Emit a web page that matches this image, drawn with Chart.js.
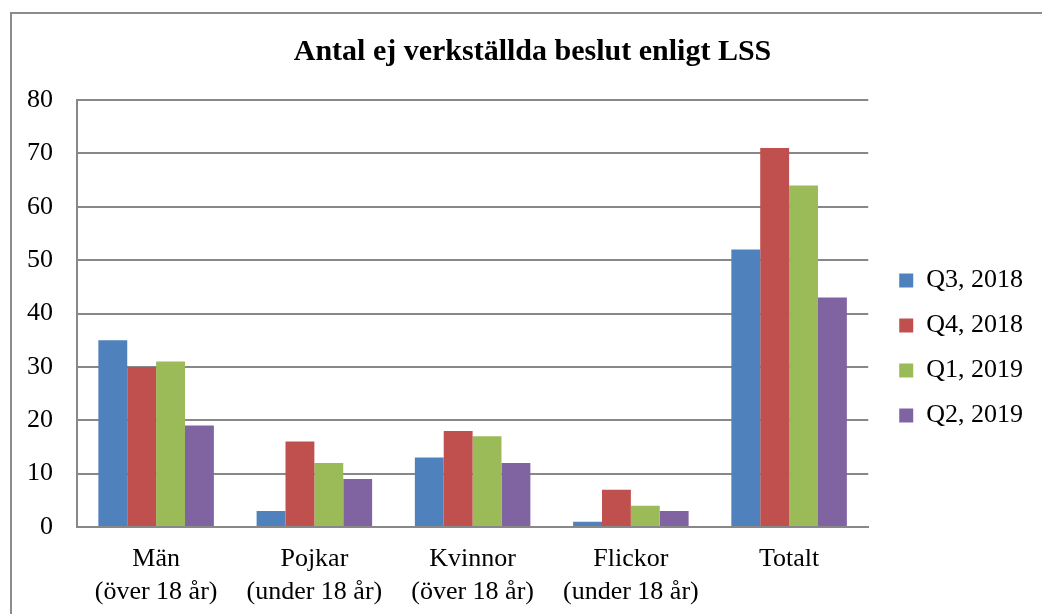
<!DOCTYPE html>
<html>
<head>
<meta charset="utf-8">
<script src="https://cdn.jsdelivr.net/npm/chart.js@4"></script>
<style>
  html, body { margin: 0; padding: 0; background: #fff; overflow: hidden; }
  #wrap { position: relative; width: 1042px; height: 614px; }
  #frame { position: absolute; left: 10px; top: 12px; width: 1100px; height: 700px;
           border: 2px solid #8c8c8c; pointer-events: none; }
</style>
</head>
<body>
<div id="wrap">
  <canvas id="chart" width="1042" height="614"></canvas>
  <div id="frame"></div>
</div>
<script>
const categories = [
  ['Män', '(över 18 år)'],
  ['Pojkar', '(under 18 år)'],
  ['Kvinnor', '(över 18 år)'],
  ['Flickor', '(under 18 år)'],
  'Totalt'
];
const seriesNames = ['Q3, 2018', 'Q4, 2018', 'Q1, 2019', 'Q2, 2019'];
const q3_2018 = [35, 3, 13, 1, 52];
const q4_2018 = [30, 16, 18, 7, 71];
const q1_2019 = [31, 12, 17, 4, 64];
const q2_2019 = [19, 9, 12, 3, 43];
const colors = ['#4f81bd', '#c0504d', '#9bbb59', '#8064a2'];

const font = 'Liberation Serif, Times New Roman, serif';

// nudge legend and title to where the original has them
const nudge = {
  id: 'nudge',
  afterLayout(chart) {
    const lg = chart.legend;
    lg.left += 12; lg.right += 12;
    lg.top += 24; lg.bottom += 24;
    const t = chart.titleBlock;
    t.left += 22; t.right += 22;
  }
};

new Chart(document.getElementById('chart'), {
  type: 'bar',
  data: {
    labels: categories,
    datasets: [q3_2018, q4_2018, q1_2019, q2_2019].map((d, i) => ({
      label: seriesNames[i],
      data: d,
      backgroundColor: colors[i],
      borderWidth: 0,
      barPercentage: 1,
      categoryPercentage: 0.73
    }))
  },
  plugins: [nudge],
  options: {
    responsive: false,
    animation: false,
    layout: { padding: { left: 0, right: 21, top: 34, bottom: 0 } },
    plugins: {
      title: {
        display: true,
        text: 'Antal ej verkställda beslut enligt LSS',
        color: '#000',
        font: { family: font, size: 30, weight: 'bold' },
        padding: { top: 0, bottom: 30 }
      },
      legend: {
        position: 'right',
        labels: {
          color: '#000',
          font: { family: font, size: 26 },
          boxWidth: 14,
          boxHeight: 14,
          padding: 19
        }
      },
      tooltip: { enabled: false }
    },
    scales: {
      x: {
        grid: { display: false },
        border: { color: '#888', width: 2 },
        ticks: { color: '#000', font: { family: font, size: 26, lineHeight: 1.25 }, padding: 8, maxRotation: 0 },
        afterFit: s => { s.height = 87; }
      },
      y: {
        min: 0,
        max: 80,
        ticks: { stepSize: 10, color: '#000', font: { family: font, size: 26 }, padding: 24 },
        grid: { color: '#888', lineWidth: 2, drawTicks: false },
        border: { color: '#888', width: 2 },
        afterFit: s => { s.width = 77; }
      }
    }
  }
});
</script>
</body>
</html>
